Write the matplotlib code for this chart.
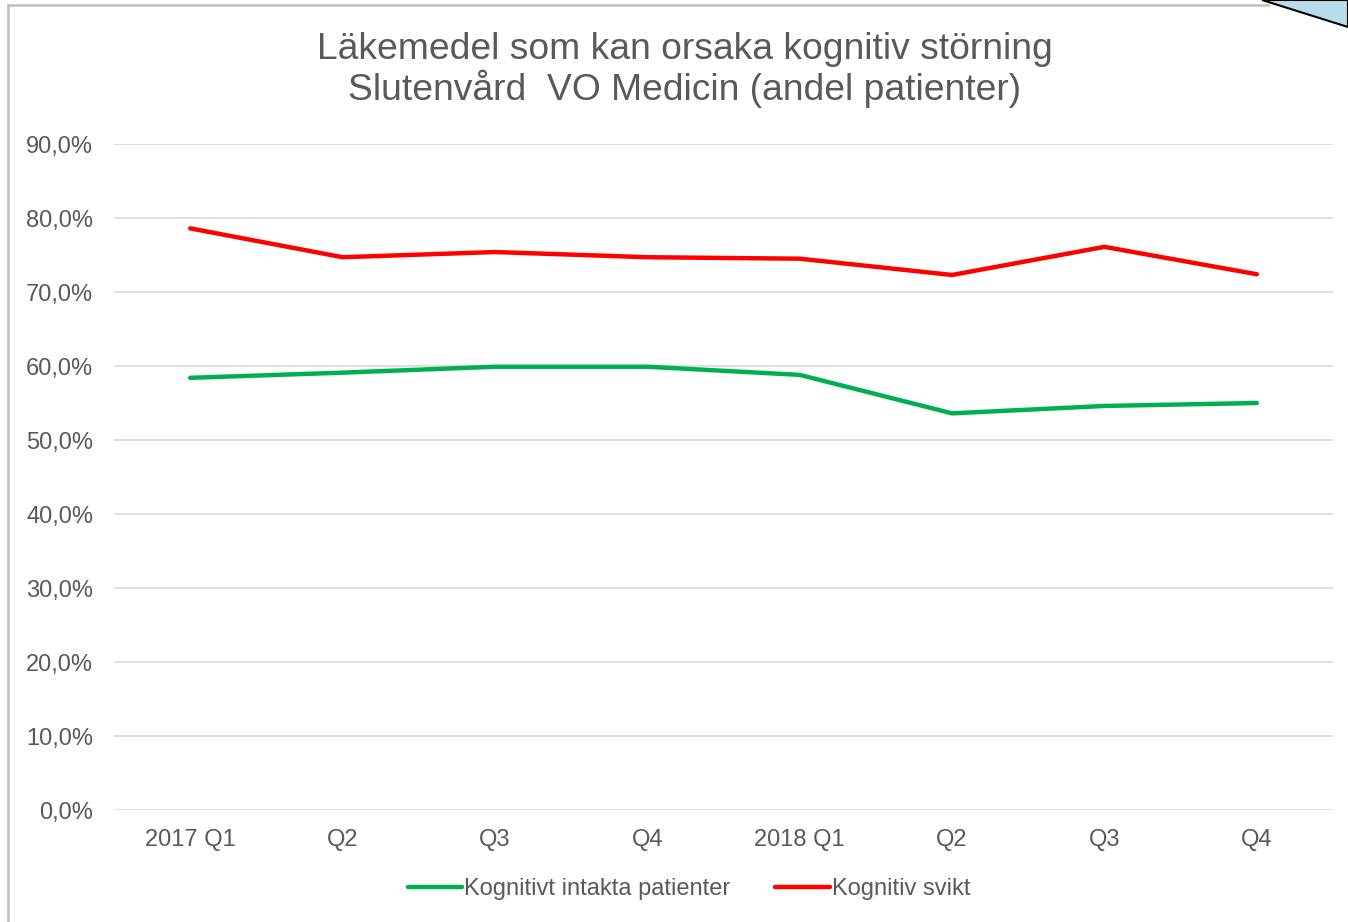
import matplotlib.pyplot as plt
from matplotlib.patches import Polygon
from matplotlib.lines import Line2D
from matplotlib.ticker import FuncFormatter

plt.rcParams['font.family'] = ['Liberation Sans', 'DejaVu Sans']

# Data
quarters = ["2017 Q1", "Q2", "Q3", "Q4", "2018 Q1", "Q2", "Q3", "Q4"]
intakta = [58.4, 59.1, 59.9, 59.9, 58.8, 53.6, 54.6, 55.0]
svikt = [78.6, 74.7, 75.4, 74.7, 74.5, 72.3, 76.1, 72.4]
yticks = [0, 10, 20, 30, 40, 50, 60, 70, 80, 90]

text_col = '#595959'
W, H = 1348, 922
fig = plt.figure(figsize=(W / 100, H / 100), dpi=100)
ax = fig.add_axes([114 / W, 1 - 810 / H, (1333 - 114) / W, (810 - 144) / H])

x = range(len(quarters))
ax.plot(x, intakta, color='#00B050', lw=3.2, solid_capstyle='round', label='Kognitivt intakta patienter')
ax.plot(x, svikt, color='#FF0000', lw=3.2, solid_capstyle='round', label='Kognitiv svikt')

ax.set_xlim(-0.5, len(quarters) - 0.5)
ax.set_ylim(0, 90)
ax.set_yticks(yticks)
ax.yaxis.set_major_formatter(FuncFormatter(lambda v, p: f"{v:.1f}%".replace('.', ',')))
ax.set_xticks(list(x))
ax.set_xticklabels(quarters)
ax.grid(axis='y', color='#D9D9D9', lw=1.2)
ax.set_axisbelow(True)
for s in ax.spines.values():
    s.set_visible(False)
ax.tick_params(length=0, labelsize=17, colors=text_col)
ax.tick_params(axis='y', pad=15)
ax.tick_params(axis='x', pad=14)

fig.text(685 / W, 1 - 70 / H, "Läkemedel som kan orsaka kognitiv störning\nSlutenvård  VO Medicin (andel patienter)",
         ha='center', va='center', fontsize=26.8, color=text_col, linespacing=1.1)

ax.legend(loc='center', bbox_to_anchor=(689 / W, 1 - 889 / H), bbox_transform=fig.transFigure,
          ncol=2, frameon=False, fontsize=17, labelcolor=text_col, handlelength=2.3,
          handletextpad=0.1, columnspacing=1.9)

# chart frame and corner shape
fig.add_artist(Line2D([8 / W, 8 / W], [0, 1 - 5 / H], color='#BFBFBF', lw=1.8))
fig.add_artist(Line2D([8 / W, 1268 / W], [1 - 5 / H, 1 - 5 / H], color='#BFBFBF', lw=1.8))
tri = Polygon([(1262 / W, 1.0), (1348 / W, 1 - 27 / H), (1348 / W, 1.0)], closed=True,
              transform=fig.transFigure, facecolor='#B7DEE8', edgecolor='black', lw=1.5)
fig.add_artist(tri)

fig.savefig('out.png', dpi=100)
